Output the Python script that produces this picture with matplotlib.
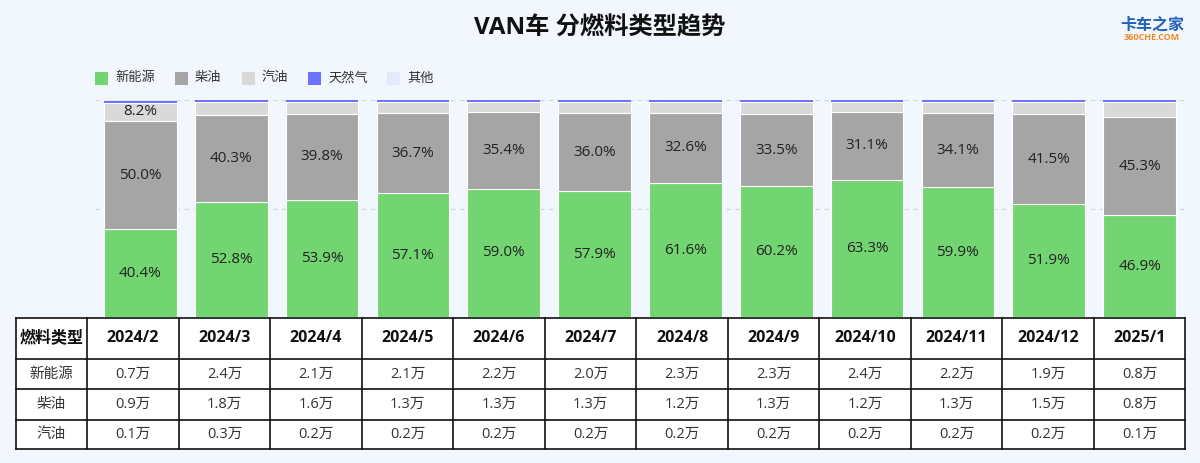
import numpy as np
import matplotlib.pyplot as plt

plt.rcParams['font.family'] = ['Open Sans', 'Noto Sans CJK SC', 'DejaVu Sans']

months = ['2024/2', '2024/3', '2024/4', '2024/5', '2024/6', '2024/7',
          '2024/8', '2024/9', '2024/10', '2024/11', '2024/12', '2025/1']

# share in percent
new_energy = [40.4, 52.8, 53.9, 57.1, 59.0, 57.9, 61.6, 60.2, 63.3, 59.9, 51.9, 46.9]
diesel = [50.0, 40.3, 39.8, 36.7, 35.4, 36.0, 32.6, 33.5, 31.1, 34.1, 41.5, 45.3]
gasoline = [8.2, 5.9, 5.3, 5.2, 4.6, 5.1, 4.8, 5.3, 4.6, 5.0, 5.6, 6.8]
natural_gas = [1.0, 0.9, 0.9, 0.9, 0.9, 0.9, 0.9, 0.9, 0.9, 0.9, 0.9, 0.9]
other = [0.4, 0.1, 0.1, 0.1, 0.1, 0.1, 0.1, 0.1, 0.1, 0.1, 0.1, 0.1]

# volumes (10k units) for the table
vol_new = ['0.7万', '2.4万', '2.1万', '2.1万', '2.2万', '2.0万', '2.3万', '2.3万', '2.4万', '2.2万', '1.9万', '0.8万']
vol_diesel = ['0.9万', '1.8万', '1.6万', '1.3万', '1.3万', '1.3万', '1.2万', '1.3万', '1.2万', '1.3万', '1.5万', '0.8万']
vol_gas = ['0.1万', '0.3万', '0.2万', '0.2万', '0.2万', '0.2万', '0.2万', '0.2万', '0.2万', '0.2万', '0.2万', '0.1万']

names = ['新能源', '柴油', '汽油', '天然气', '其他']
colors = ['#72d572', '#a5a5a5', '#d9d9d9', '#6e73ff', '#e6e8fb']

W, H = 1200, 463
fig = plt.figure(figsize=(12, 4.63), dpi=100)
fig.patch.set_facecolor('#f2f6fd')

# background / overlay axes in pixel coords
bg = fig.add_axes([0, 0, 1, 1])
bg.set_xlim(0, W)
bg.set_ylim(H, 0)
bg.axis('off')

bg.text(600, 28, 'VAN车 分燃料类型趋势', ha='center', va='center',
        fontsize=17.5, fontweight='bold', color='#111111')
bg.text(1152, 26, '卡车之家', ha='center', va='center', fontsize=11.5,
        fontweight='bold', color='#1f62b8', style='italic')
bg.text(1152, 37.5, '360CHE.COM', ha='center', va='center', fontsize=6.5,
        fontweight='bold', color='#f08a24')

# legend
leg_x = [95, 175, 242, 308, 387]
for x, n, c in zip(leg_x, names, colors):
    bg.add_patch(plt.Rectangle((x, 72), 13, 13, facecolor=c, edgecolor='none'))
    bg.text(x + 20, 78, n, ha='left', va='center', fontsize=9.5, color='#333333')

# bar chart
ax = fig.add_axes([95 / W, 1 - 317 / H, 1090 / W, 217 / H])
ax.set_facecolor('none')
x = np.arange(len(months))
series = [new_energy, diesel, gasoline, natural_gas, other]
bottom = np.zeros(len(months))
for i, (vals, c) in enumerate(zip(series, colors)):
    vals = np.array(vals)
    lw = 0.8 if i < 3 else 0
    ax.bar(x, vals, 0.8, bottom=bottom, color=c, edgecolor='white', linewidth=lw, zorder=3 + i)
    if i < 3:
        for xi, v, b in zip(x, vals, bottom):
            if v >= 7:
                ax.text(xi, b + v / 2, f'{v:.1f}%', ha='center', va='center',
                        fontsize=11, color='#222222', zorder=10)
    bottom += vals

ax.set_xlim(-0.5, len(months) - 0.5)
ax.set_ylim(0, 100)
for yv in [50, 100]:
    ax.axhline(yv, color='#d0d4dc', linestyle=(0, (4, 4)), linewidth=0.8, zorder=1)
ax.axis('off')

# table
cols = [15.5] + [87.3 + 91.5 * k for k in range(13)]
rows = [317.5, 359.3, 389.3, 419.7, 448.7]
bg.add_patch(plt.Rectangle((cols[0], rows[0]), cols[-1] - cols[0], rows[-1] - rows[0],
                           facecolor='white', edgecolor='none', zorder=2))
for cx in cols:
    bg.plot([cx, cx], [rows[0], rows[-1]], color='#111111', lw=1.2, zorder=3)
for ry in rows:
    bg.plot([cols[0], cols[-1]], [ry, ry], color='#111111', lw=1.2, zorder=3)

table_rows = [['燃料类型'] + months,
              ['新能源'] + vol_new,
              ['柴油'] + vol_diesel,
              ['汽油'] + vol_gas]
for r, row in enumerate(table_rows):
    yc = (rows[r] + rows[r + 1]) / 2
    for c, txt in enumerate(row):
        xc = (cols[c] + cols[c + 1]) / 2
        if r == 0:
            bg.text(xc, yc, txt, ha='center', va='center', fontsize=11.5,
                    fontweight='bold', color='#111111', zorder=4)
        else:
            bg.text(xc, yc, txt, ha='center', va='center', fontsize=10.5,
                    color='#333333', zorder=4)

fig.savefig('out.png', dpi=100, facecolor=fig.get_facecolor())
